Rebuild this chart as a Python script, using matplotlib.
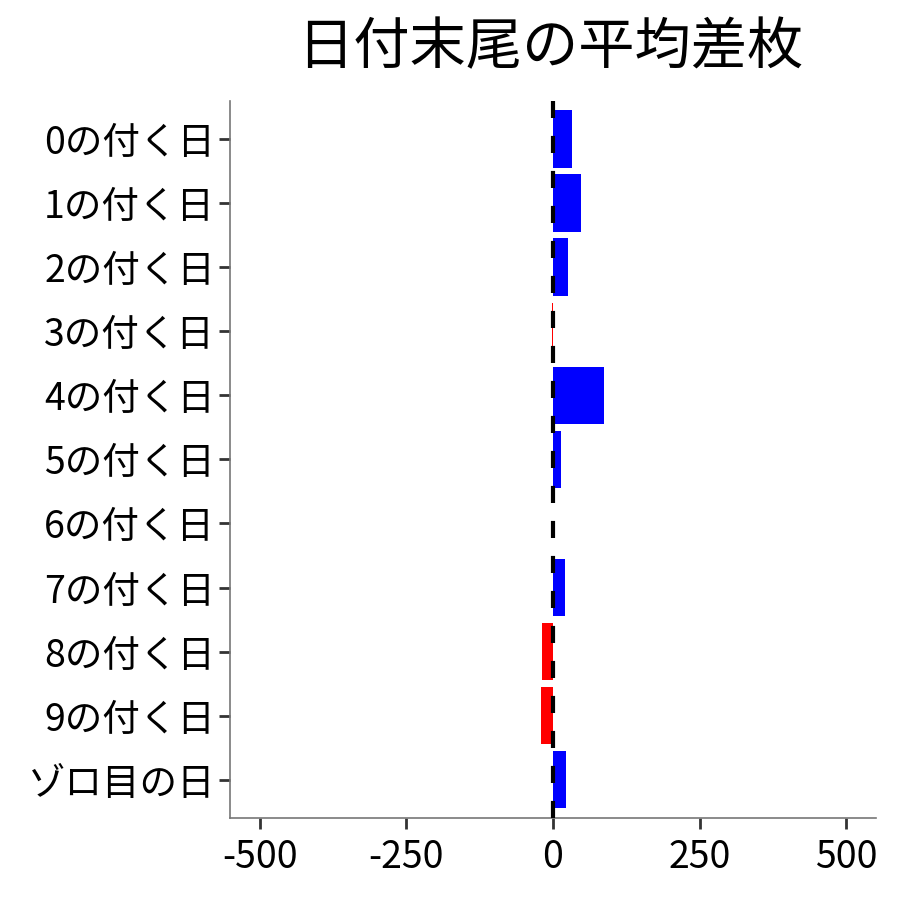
import matplotlib
matplotlib.use("Agg")
import matplotlib.pyplot as plt
import numpy as np

plt.rcParams["font.family"] = ["Noto Sans CJK JP", "DejaVu Sans"]

labels = ["0の付く日", "1の付く日", "2の付く日", "3の付く日", "4の付く日",
          "5の付く日", "6の付く日", "7の付く日", "8の付く日", "9の付く日",
          "ゾロ目の日"]
diff = [32, 47, 25, -1, 86, 13, 0, 20, -18, -20, 22]

colors = ["blue" if v > 0 else "red" for v in diff]

fig = plt.figure(figsize=(9, 9), dpi=100)
ax = fig.add_axes([0.256, 0.091, 0.717, 0.797])

y = np.arange(len(labels))
ax.barh(y, diff, height=0.9, color=colors, zorder=2)
ax.axvline(0, color="black", linestyle=(0, (4.1, 4.3)), linewidth=3, zorder=3)

ax.set_xlim(-550, 550)
ax.set_ylim(len(labels) - 0.4, -0.6)
ax.set_yticks(y)
ax.set_yticklabels(labels)
ax.set_xticks([-500, -250, 0, 250, 500])
ax.set_xticklabels(["-500", "-250", "0", "250", "500"])
ax.tick_params(axis="both", labelsize=27, length=8, width=2, color="#333333",
               labelcolor="black", pad=3)
ax.tick_params(axis="x", pad=6)

for s in ["top", "right"]:
    ax.spines[s].set_visible(False)
for s in ["left", "bottom"]:
    ax.spines[s].set_color("#777777")
    ax.spines[s].set_linewidth(1.2)

fig.text(0.611, 0.946, "日付末尾の平均差枚", ha="center", va="center", fontsize=40.5)

fig.savefig("out.png", dpi=100, facecolor="white")
